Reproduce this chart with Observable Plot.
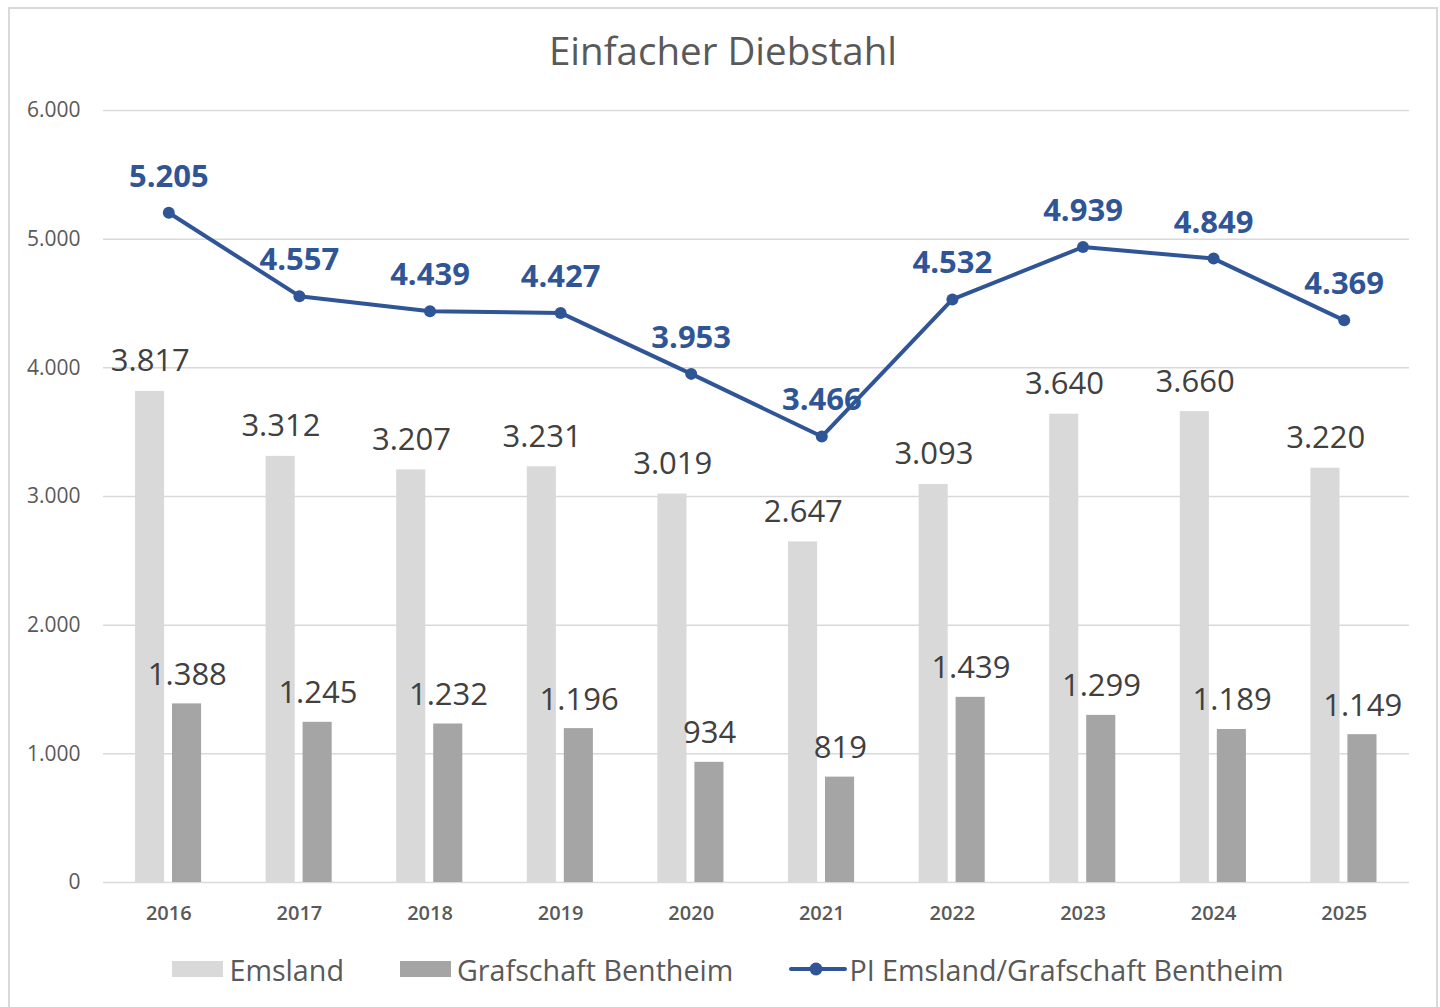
<!DOCTYPE html>
<html>
<head>
<meta charset="utf-8">
<script src="https://cdn.jsdelivr.net/npm/d3@7"></script>
<script src="https://cdn.jsdelivr.net/npm/@observablehq/plot@0.6"></script>
<style>
  html, body { margin: 0; padding: 0; background: #fff; }
  body { font-family: "Open Sans", "Noto Sans", sans-serif; color: #595959; width: 1440px; height: 1007px; overflow: hidden; position: relative; }
  #frame { position: absolute; left: 8px; top: 7px; width: 1426px; height: 1010px; border: 2px solid #d9d9d9; pointer-events: none; }
  #title { box-sizing: border-box; width: 1446px; height: 89px; padding-top: 31px; text-align: center; font-size: 38.5px; line-height: 1; color: #595959; }
  #chart svg { display: block; }
  #legend { box-sizing: border-box; width: 1446px; height: 72px; display: flex; justify-content: center; align-items: center; padding-bottom: 4px; padding-left: 10px; font-size: 28.7px; color: #595959; }
  .item { display: flex; align-items: center; margin: 0 28px; }
  .sw { display: inline-block; width: 51px; height: 16px; margin-right: 6px; }
  .ln { margin-right: 2px; }
</style>
</head>
<body>
<div id="title">Einfacher Diebstahl</div>
<div id="chart"></div>
<div id="legend">
  <div class="item"><span class="sw" style="background:#d9d9d9"></span><span>Emsland</span></div>
  <div class="item"><span class="sw" style="background:#a5a5a5"></span><span>Grafschaft Bentheim</span></div>
  <div class="item"><svg class="ln" width="58" height="16"><line x1="2" y1="8" x2="56" y2="8" stroke="#2f5597" stroke-width="4" stroke-linecap="round"/><circle cx="27" cy="8" r="6.5" fill="#2f5597"/></svg><span>PI Emsland/Grafschaft Bentheim</span></div>
</div>
<div id="frame"></div>
<script>
const years = ["2016","2017","2018","2019","2020","2021","2022","2023","2024","2025"];
const emsland = [3817, 3312, 3207, 3231, 3019, 2647, 3093, 3640, 3660, 3220];
const grafschaft = [1388, 1245, 1232, 1196, 934, 819, 1439, 1299, 1189, 1149];
const piTotal = [5205, 4557, 4439, 4427, 3953, 3466, 4532, 4939, 4849, 4369];
const yTicks = [0, 1000, 2000, 3000, 4000, 5000, 6000];

const de = d3.formatLocale({decimal: ",", thousands: ".", grouping: [3], currency: ["", " €"]});
const fmt = de.format(",d");

const rows = years.map((y, i) => ({year: y, e: emsland[i], g: grafschaft[i], p: piTotal[i]}));

const chart = Plot.plot({
  width: 1440,
  height: 846,
  marginLeft: 103,
  marginRight: 31,
  marginTop: 21,
  marginBottom: 53,
  style: {fontFamily: '"Open Sans", "Noto Sans", sans-serif', color: "#595959", background: "transparent"},
  x: {type: "band", domain: years, padding: 0, round: false, label: null},
  y: {domain: [0, 6000], label: null},
  marks: [
    Plot.ruleY(yTicks, {stroke: "#d9d9d9", strokeWidth: 1.5}),
    Plot.barY(rows, {x: "year", y: "e", fill: "#d9d9d9", insetLeft: 32, insetRight: 69.5}),
    Plot.barY(rows, {x: "year", y: "g", fill: "#a5a5a5", insetLeft: 69, insetRight: 32.5}),
    Plot.axisY(yTicks, {tickSize: 0, tickPadding: 23, tickFormat: fmt, fontSize: 21, fill: "#595959", label: null}),
    Plot.axisX({tickSize: 0, tickPadding: 23, fontSize: 20, fontWeight: 600, fill: "#595959", label: null}),
    Plot.line(rows, {x: "year", y: "p", stroke: "#2f5597", strokeWidth: 4}),
    Plot.dot(rows, {x: "year", y: "p", r: 6, fill: "#2f5597"}),
    Plot.text(rows, {x: "year", y: "e", text: d => fmt(d.e), dx: -18.5, dy: -30, fontSize: 31, fill: "#404040", lineAnchor: "middle"}),
    Plot.text(rows, {x: "year", y: "g", text: d => fmt(d.g), dx: 18.5, dy: -29, fontSize: 31, fill: "#404040", lineAnchor: "middle"}),
    Plot.text(rows, {x: "year", y: "p", text: d => fmt(d.p), dy: -36, fontSize: 31, fontWeight: "bold", fill: "#2f5597", lineAnchor: "middle"})
  ]
});
document.getElementById("chart").appendChild(chart);
</script>
</body>
</html>
